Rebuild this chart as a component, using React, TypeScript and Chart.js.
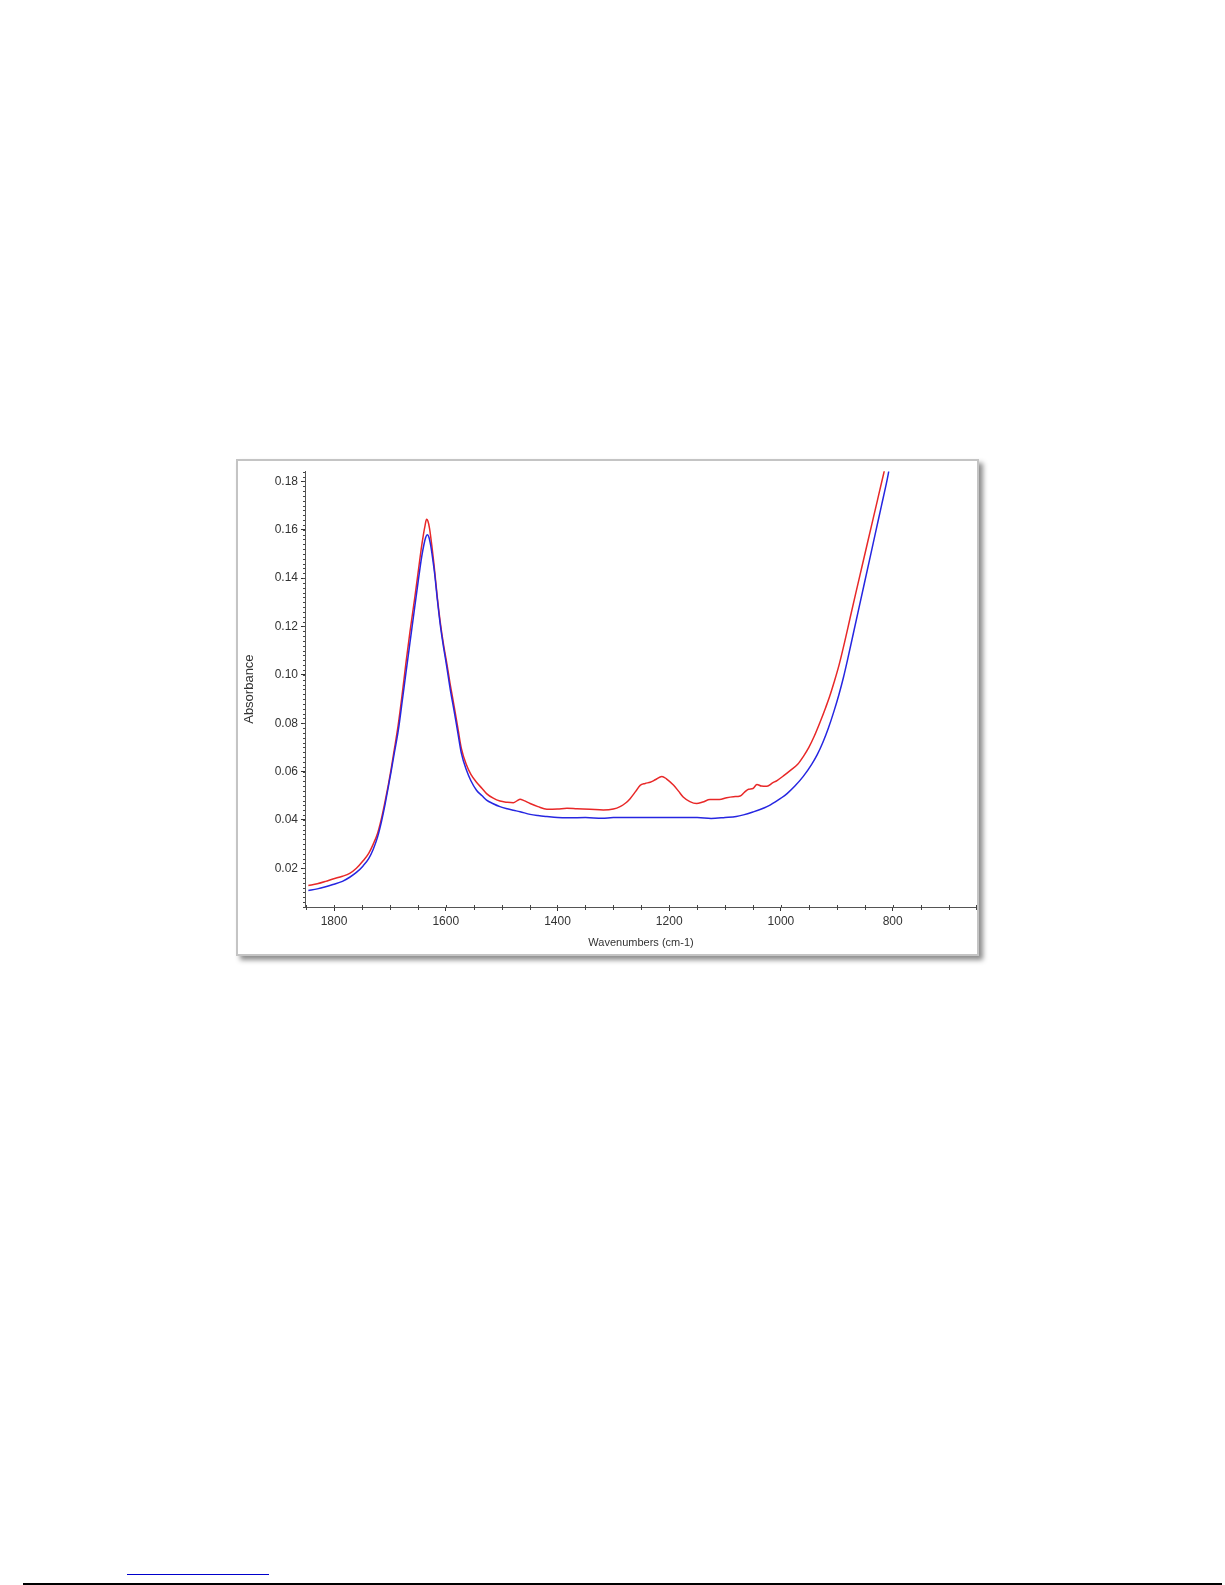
import React, { useEffect, useRef } from "react";
import { Chart, registerables } from "chart.js";

Chart.register(...registerables);

// ---- data ----
const redWavenumbers = [
  1846, 1830, 1815, 1802, 1785, 1772, 1760, 1748, 1738, 1730, 1722, 1715, 1709, 1703, 1698, 1693, 1685, 1678,
  1671.5, 1664, 1655.6, 1648, 1644, 1640, 1637, 1634.5, 1632, 1629, 1625, 1621, 1615, 1610, 1604, 1598, 1592,
  1585, 1578, 1572, 1563, 1555, 1545, 1535, 1527, 1515, 1503, 1490, 1479, 1472, 1467, 1460, 1449, 1435, 1419,
  1400, 1383, 1365, 1342, 1318, 1300, 1288, 1278, 1270, 1260, 1252, 1243, 1234, 1225, 1213, 1205, 1192, 1183,
  1175, 1163, 1151, 1140, 1127, 1110, 1097, 1085, 1073, 1065, 1058, 1050, 1043, 1035, 1025, 1015, 1007, 995,
  983, 970, 960, 950, 940, 930, 920, 913, 905, 896, 886, 876, 866, 855, 845, 835, 825, 815,
];
const redAbsorbance = [
  0.0129, 0.0136, 0.0146, 0.0156, 0.0167, 0.0179, 0.02, 0.0231, 0.0262, 0.0299, 0.0345, 0.0407, 0.0472, 0.0543,
  0.0608, 0.0679, 0.0795, 0.092, 0.1045, 0.118, 0.1317, 0.145, 0.152, 0.158, 0.1618, 0.1643, 0.1636, 0.1605,
  0.1535, 0.1455, 0.1317, 0.122, 0.1125, 0.1045, 0.096, 0.087, 0.0775, 0.0695, 0.0628, 0.0588, 0.0556, 0.053,
  0.0509, 0.049, 0.0478, 0.0473, 0.0471, 0.048, 0.0486, 0.048, 0.0468, 0.0455, 0.0444, 0.0445, 0.0448, 0.0446,
  0.0444, 0.0441, 0.0445, 0.0455, 0.047, 0.0488, 0.0518, 0.0543, 0.0551, 0.0556, 0.0566, 0.058, 0.057, 0.0543,
  0.0518, 0.0495, 0.0476, 0.0468, 0.0474, 0.0484, 0.0484, 0.0492, 0.0496, 0.0499, 0.0515, 0.0527, 0.053, 0.0547,
  0.054, 0.0539, 0.0553, 0.0563, 0.0583, 0.0605, 0.063, 0.0662, 0.07, 0.0748, 0.0804, 0.0864, 0.0909, 0.0968,
  0.104, 0.1135, 0.1237, 0.1338, 0.1447, 0.1546, 0.1645, 0.1744, 0.1843,
];
const blueWavenumbers = [
  1846, 1830, 1815, 1802, 1785, 1772, 1760, 1748, 1738, 1730, 1722, 1715, 1709, 1703, 1698, 1693, 1685, 1678,
  1671.5, 1664, 1655.6, 1648, 1643, 1639, 1636, 1633, 1630, 1627, 1624, 1620, 1615, 1610, 1604, 1598, 1592,
  1585, 1578, 1572, 1563, 1555, 1545, 1535, 1527, 1515, 1503, 1490, 1479, 1467, 1449, 1435, 1419, 1400, 1380,
  1350, 1320, 1300, 1250, 1200, 1150, 1125, 1100, 1080, 1067, 1050, 1035, 1025, 1010, 1000, 989, 975, 960,
  945, 935, 925, 915, 905, 896, 888, 880, 870, 860, 850, 840, 830, 820, 810, 807,
];
const blueAbsorbance = [
  0.0108, 0.0115, 0.0124, 0.0133, 0.0146, 0.0163, 0.0183, 0.021, 0.024, 0.0278, 0.033, 0.0394, 0.046, 0.0535,
  0.0598, 0.0665, 0.077, 0.089, 0.1005, 0.1135, 0.128, 0.141, 0.149, 0.154, 0.1568, 0.1579, 0.1568, 0.1535,
  0.149, 0.142, 0.131, 0.121, 0.1115, 0.103, 0.094, 0.085, 0.0755, 0.0675, 0.0606, 0.0562, 0.0523, 0.05,
  0.0482, 0.0467, 0.0455, 0.0446, 0.044, 0.0434, 0.0423, 0.0418, 0.0414, 0.041, 0.0409, 0.041, 0.0407, 0.041,
  0.041, 0.041, 0.041, 0.0406, 0.041, 0.0414, 0.0421, 0.0433, 0.0445, 0.0455, 0.0475, 0.049, 0.0509, 0.054,
  0.058, 0.063, 0.067, 0.072, 0.078, 0.085, 0.092, 0.099, 0.107, 0.1175, 0.128, 0.1385, 0.149, 0.1595, 0.17,
  0.1805, 0.1841,
];

const xTickValues = [1800, 1600, 1400, 1200, 1000, 800];
const yTickValues = [0.02, 0.04, 0.06, 0.08, 0.1, 0.12, 0.14, 0.16, 0.18];
const xRange = [649, 1852];
const yRange = [0.004, 0.1842];
const xMinorStep = 50;
const yMinorStep = 0.002;

const xTitle = "Wavenumbers (cm-1)";
const yTitle = "Absorbance";

const FONT = "'Liberation Sans', Arial, sans-serif";

const minorTicksPlugin = {
  id: "minorTicks",
  afterDraw(chart: any) {
    const { ctx, chartArea, scales } = chart;
    const x = scales.x;
    const y = scales.y;
    ctx.save();
    ctx.strokeStyle = "#444";
    ctx.lineWidth = 1;
    ctx.beginPath();
    for (let i = Math.ceil(yRange[0] / yMinorStep); i * yMinorStep <= yRange[1] + 1e-9; i++) {
      const v = i * yMinorStep;
      const py = Math.round(y.getPixelForValue(v)) + 0.5;
      ctx.moveTo(chartArea.left - 2, py);
      ctx.lineTo(chartArea.left, py);
    }
    for (let i = Math.ceil(xRange[0] / xMinorStep); i * xMinorStep <= xRange[1]; i++) {
      const v = i * xMinorStep;
      const px = Math.round(x.getPixelForValue(v)) + 0.5;
      const major = v % 200 === 0;
      ctx.moveTo(px, chartArea.bottom - 2);
      ctx.lineTo(px, chartArea.bottom + (major ? 0 : 3));
    }
    ctx.stroke();
    ctx.restore();
  },
};

export default function App() {
  const ref = useRef<HTMLCanvasElement | null>(null);

  useEffect(() => {
    if (!ref.current) return;
    const toPoints = (xs: number[], ys: number[]) => xs.map((v, i) => ({ x: v, y: ys[i] }));
    const chart = new Chart(ref.current, {
      type: "scatter",
      data: {
        datasets: [
          {
            label: "Blue",
            data: toPoints(blueWavenumbers, blueAbsorbance),
            showLine: true,
            borderColor: "rgb(38,38,225)",
            backgroundColor: "rgb(38,38,225)",
            borderWidth: 1.5,
            pointRadius: 0,
            cubicInterpolationMode: "monotone",
            order: 0,
          },
          {
            label: "Red",
            data: toPoints(redWavenumbers, redAbsorbance),
            showLine: true,
            borderColor: "rgb(232,40,40)",
            backgroundColor: "rgb(232,40,40)",
            borderWidth: 1.5,
            pointRadius: 0,
            cubicInterpolationMode: "monotone",
            order: 1,
          },
        ],
      },
      options: {
        animation: false,
        responsive: false,
        devicePixelRatio: 1,
        layout: { padding: { top: 4, left: 0, right: 0, bottom: 0 } },
        plugins: { legend: { display: false }, tooltip: { enabled: false } },
        scales: {
          x: {
            type: "linear",
            reverse: true,
            min: xRange[0],
            max: xRange[1],
            afterBuildTicks: (scale: any) => {
              scale.ticks = xTickValues.map((v) => ({ value: v }));
            },
            afterFit: (scale: any) => {
              scale.height = 47;
            },
            border: { display: true, color: "#555", width: 1 },
            grid: { drawOnChartArea: false, drawTicks: true, tickLength: 4, tickColor: "#333" },
            ticks: {
              color: "#333",
              padding: 3,
              maxRotation: 0,
              autoSkip: false,
              font: { family: FONT, size: 12 },
              callback: (v: any) => String(v),
            },
            title: {
              display: true,
              text: xTitle,
              color: "#333",
              font: { family: FONT, size: 11 },
              padding: { top: 0, bottom: 4.7 },
            },
          },
          y: {
            type: "linear",
            min: yRange[0],
            max: yRange[1],
            afterBuildTicks: (scale: any) => {
              scale.ticks = yTickValues.map((v) => ({ value: v }));
            },
            afterFit: (scale: any) => {
              scale.width = 67;
            },
            border: { display: true, color: "#555", width: 1 },
            grid: { drawOnChartArea: false, drawTicks: true, tickLength: 4, tickColor: "#333" },
            ticks: {
              color: "#333",
              padding: 3,
              autoSkip: false,
              font: { family: FONT, size: 12 },
              callback: (v: any) => Number(v).toFixed(2),
            },
            title: {
              display: true,
              text: yTitle,
              color: "#333",
              font: { family: FONT, size: 13 },
              padding: { top: 3.5, bottom: 0 },
            },
          },
        },
      },
      plugins: [minorTicksPlugin],
    } as any);
    return () => chart.destroy();
  }, []);

  return (
    <div>
      <div
        style={{
          position: "absolute",
          left: 236,
          top: 459,
          width: 743,
          height: 497,
          boxSizing: "border-box",
          border: "2px solid #c4c4c4",
          background: "#fff",
          boxShadow: "4px 4px 5px rgba(0,0,0,0.45)",
        }}
      >
        <canvas ref={ref} width={739} height={493} style={{ display: "block" }} />
      </div>
      <div
        style={{ position: "absolute", left: 127, top: 1574, width: 142, height: 1, background: "#0000cc" }}
      />
      <div
        style={{ position: "absolute", left: 23, top: 1583, width: 1199, height: 2, background: "#000" }}
      />
    </div>
  );
}
